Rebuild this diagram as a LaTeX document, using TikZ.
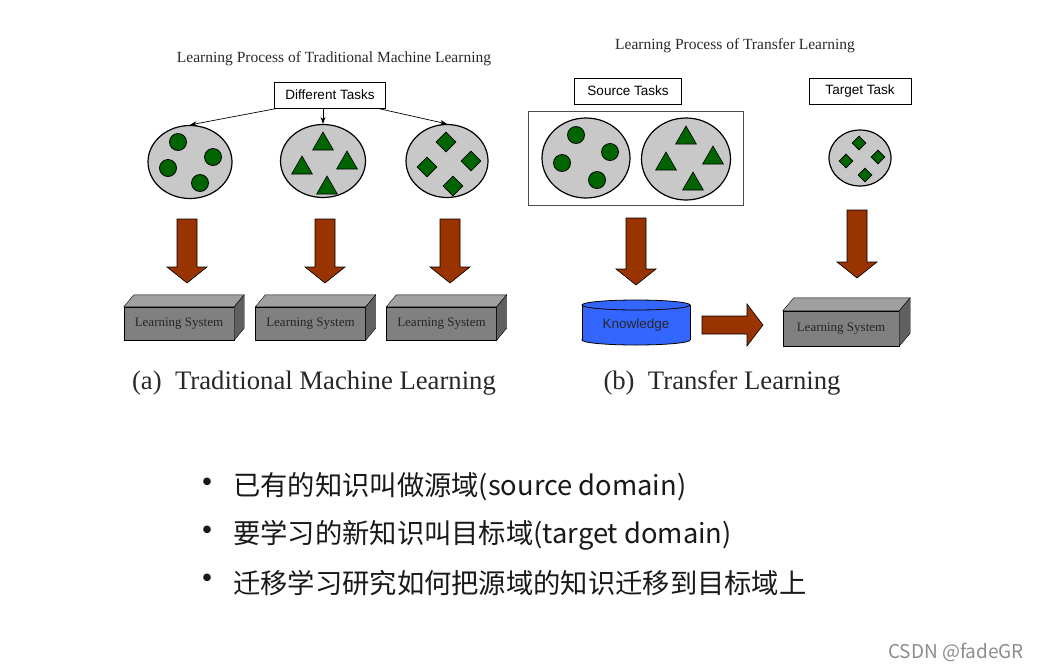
\documentclass[tikz,border=0pt]{standalone}
\usepackage{fontspec}
\setmainfont{Liberation Serif}
\setsansfont{Liberation Sans}
\newfontfamily\cjk{Noto Sans CJK SC}
\usetikzlibrary{shapes.geometric,arrows.meta,positioning}

\definecolor{taskgray}{RGB}{200,200,200}
\definecolor{dgreen}{RGB}{0,100,0}
\definecolor{brownarrow}{RGB}{153,51,0}
\definecolor{lsfront}{RGB}{128,128,128}
\definecolor{lstop}{RGB}{160,160,160}
\definecolor{lsside}{RGB}{96,96,96}
\definecolor{kblue}{RGB}{51,102,255}
\definecolor{inkgray}{RGB}{40,40,40}

% top and right faces of a learning system block
\newcommand\lsfaces[2]{%
  \draw[fill=lstop] (#1.north west) -- ([shift={#2}]#1.north west) -- ([shift={#2}]#1.north east) -- (#1.north east) -- cycle;
  \draw[fill=lsside] (#1.north east) -- ([shift={#2}]#1.north east) -- ([shift={#2}]#1.south east) -- (#1.south east) -- cycle;
}

\begin{document}
\begin{tikzpicture}[x=1pt,y=-1pt,
  task/.style={ellipse, draw, fill=taskgray, line width=1.2pt, inner sep=0pt},
  dot/.style={circle, draw, fill=dgreen, line width=0.8pt, minimum size=17pt, inner sep=0pt},
  tri/.style={regular polygon, regular polygon sides=3, draw, fill=dgreen, line width=0.6pt, minimum size=24pt, inner sep=0pt},
  dia/.style={diamond, draw, fill=dgreen, line width=0.6pt, minimum width=#1, minimum height=#1, inner sep=0pt},
  label box/.style={draw, line width=0.8pt, font=\sffamily\fontsize{13.5}{13.5}\selectfont, minimum height=26pt, inner sep=3pt},
  lsys/.style={draw, fill=lsfront, minimum width=110pt, minimum height=33pt, inner sep=0pt, text=black!85, font=\fontsize{13}{13}\selectfont},
  title/.style={text=inkgray, font=\fontsize{15.5}{15.5}\selectfont},
  caption/.style={text=inkgray, font=\fontsize{26.7}{26.7}\selectfont},
  bullet/.style={anchor=west, inner sep=0pt, text=black!90, font=\cjk\fontsize{27.3}{27.3}\selectfont},
  pics/bigdown/.style={code={
    \draw[fill=brownarrow, line width=0.6pt] (-10,0) -- (10,0) -- (10,{#1-16}) -- (20,{#1-16}) -- (0,#1) -- (-20,{#1-16}) -- (-10,{#1-16}) -- cycle;
  }},
  pics/bigright/.style={code={
    \draw[fill=brownarrow, line width=0.6pt] (0,-9) -- ({#1-16},-9) -- ({#1-16},-21) -- (#1,0) -- ({#1-16},21) -- ({#1-16},9) -- (0,9) -- cycle;
  }}]

\useasboundingbox (0,0) rectangle (1040,670);

% (a) traditional machine learning
\node[title] (titleA) at (334,59) {Learning Process of Traditional Machine Learning};
\node[label box, minimum width=111pt] (diff) at (330,95) {Different Tasks};

\node[task, minimum width=84pt, minimum height=73pt] (tA) at (190,162) {};
\node[task, minimum width=85pt, minimum height=73pt] (tB) at (323,161) {};
\node[task, minimum width=82pt, minimum height=73pt] (tC) at (447,161) {};

\draw[-{Stealth[length=7pt,width=5pt]}, line width=0.7pt] ([xshift=3pt]diff.south west) -- (tA.north);
\draw[-{Stealth[length=7pt,width=5pt]}, line width=0.7pt] (diff.south -| tB.north) -- (tB.north);
\draw[-{Stealth[length=7pt,width=5pt]}, line width=0.7pt] ([xshift=-8pt]diff.south east) -- (tC.north);

\node[dot] (a1) at (178,142) {};
\node[dot] (a2) at (213,157) {};
\node[dot] (a3) at (168,168) {};
\node[dot] (a4) at (200,183) {};

\node[tri] (b1) at (323,144) {};
\node[tri] (b2) at (302,168) {};
\node[tri] (b3) at (347,163) {};
\node[tri] (b4) at (327,188) {};

\node[dia=20pt] (c1) at (446,142) {};
\node[dia=20pt] (c2) at (427,167) {};
\node[dia=20pt] (c3) at (471,161) {};
\node[dia=20pt] (c4) at (453,186) {};

\pic at (187,219) {bigdown=64};
\pic at (325,219) {bigdown=64};
\pic at (450,219) {bigdown=64};

\node[lsys] (lsA) at (179,323.5) {Learning System};
\node[lsys] (lsB) at (310.5,323.5) {Learning System};
\node[lsys] (lsC) at (441.5,323.5) {Learning System};
\lsfaces{lsA}{(10,-12)}
\lsfaces{lsB}{(10,-12)}
\lsfaces{lsC}{(10,-12)}

\node[caption] (capA) at (314,383) {(a)\ \ Traditional Machine Learning};

% (b) transfer learning
\node[title] (titleB) at (735,46) {Learning Process of Transfer Learning};
\node[label box, minimum width=107pt] (src) at (628,91) {Source Tasks};
\node[label box, minimum width=102pt] (tgt) at (860,91) {Target Task};

\node[draw=black!70, line width=0.8pt, minimum width=215pt, minimum height=94pt] (frame) at (635.5,158) {};
\node[task, minimum width=88pt, minimum height=80pt] (sA) at (586,158) {};
\node[task, minimum width=89pt, minimum height=82pt] (sB) at (686,159) {};
\node[task, minimum width=62pt, minimum height=56pt] (tT) at (860,158) {};

\node[dot] (s1) at (576,135) {};
\node[dot] (s2) at (610,152) {};
\node[dot] (s3) at (562,163) {};
\node[dot] (s4) at (597,180) {};

\node[tri] (u1) at (686,138) {};
\node[tri] (u2) at (666,164) {};
\node[tri] (u3) at (713,158) {};
\node[tri] (u4) at (693,184) {};

\node[dia=14pt] (v1) at (859,143) {};
\node[dia=14pt] (v2) at (846,161) {};
\node[dia=14pt] (v3) at (878,157) {};
\node[dia=14pt] (v4) at (865,175) {};

\pic at (636,218) {bigdown=67};
\pic at (857,210) {bigdown=68};

% knowledge store
\fill[kblue] (636,340) ellipse [x radius=54, y radius=5];
\draw[line width=0.8pt] (636,340) ellipse [x radius=54, y radius=5];
\fill[kblue] (582,305) rectangle (690,340);
\draw[line width=0.8pt] (582,305) -- (582,340);
\draw[line width=0.8pt] (690,305) -- (690,340);
\draw[fill=kblue, line width=0.8pt] (636,305) ellipse [x radius=54, y radius=5];
\node[font=\sffamily\fontsize{13.5}{13.5}\selectfont, text=inkgray] (know) at (636,325) {Knowledge};

\pic at (702,325) {bigright=61};

\node[lsys, minimum width=116pt, minimum height=35pt] (lsT) at (841,328.5) {Learning System};
\lsfaces{lsT}{(11,-13)}

\node[caption] (capB) at (722,383) {(b)\ \ Transfer Learning};

% notes
\node[bullet, font=\cjk\fontsize{36}{36}\selectfont] (d1) at (189,487) {•};
\node[bullet, font=\cjk\fontsize{36}{36}\selectfont] (d2) at (189,535) {•};
\node[bullet, font=\cjk\fontsize{36}{36}\selectfont] (d3) at (189,583) {•};
\node[bullet] (n1) at (233,487) {已有的知识叫做源域(source domain)};
\node[bullet] (n2) at (233,535) {要学习的新知识叫目标域(target domain)};
\node[bullet] (n3) at (233,583) {迁移学习研究如何把源域的知识迁移到目标域上};

\node[text=black!45, font=\cjk\fontsize{19}{19}\selectfont] (mark) at (956,652) {CSDN @fadeGR};

\end{tikzpicture}
\end{document}
